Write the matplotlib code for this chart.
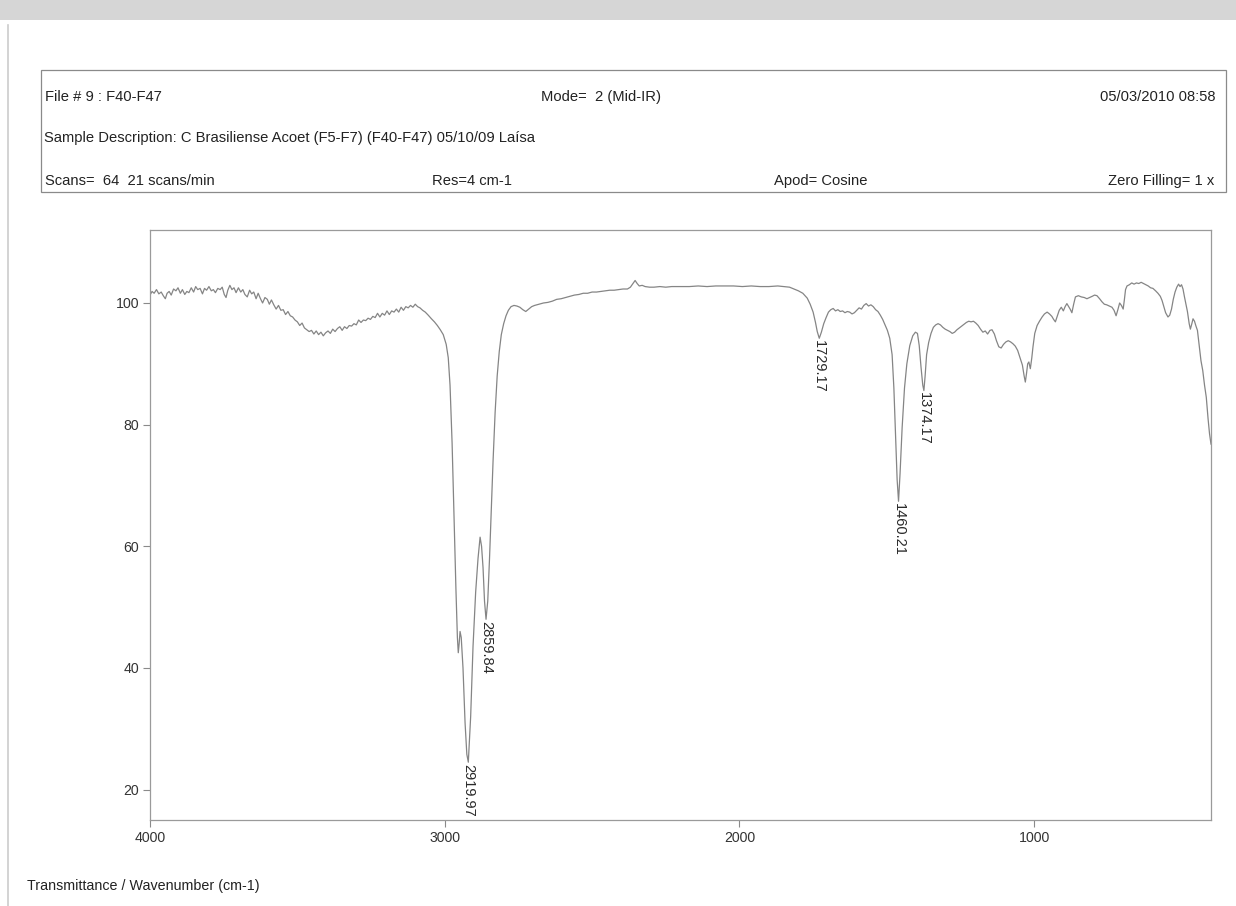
import numpy as np
import matplotlib
matplotlib.use("Agg")
import matplotlib.pyplot as plt
from matplotlib.patches import Rectangle
from matplotlib.lines import Line2D

plt.rcParams['font.family'] = ['Liberation Sans', 'DejaVu Sans']

# ---- Spectrum: wavenumber (cm-1) and transmittance (%) ----
wn_oh = [4000, 3993, 3986, 3978, 3970, 3962, 3955, 3948, 3942, 3935, 3928, 3920,
         3912, 3905, 3897, 3890, 3882, 3875, 3868, 3860, 3852, 3845, 3838, 3830,
         3822, 3815, 3808, 3800, 3792, 3785, 3778, 3770, 3762, 3755, 3748, 3742,
         3736, 3729, 3722, 3715, 3708, 3700, 3692, 3685, 3678, 3670, 3662, 3655,
         3648, 3640, 3633, 3626, 3618, 3610, 3602, 3595, 3588, 3580, 3572, 3564,
         3556, 3548, 3540, 3532, 3524, 3516, 3508, 3500, 3492, 3484, 3476, 3468,
         3460, 3452, 3444, 3436, 3428, 3420, 3412, 3404, 3396, 3388, 3380, 3372,
         3364, 3356, 3348, 3340, 3332, 3324, 3316, 3308, 3300, 3292, 3284, 3276,
         3268, 3260, 3252, 3244, 3236, 3228, 3220, 3212, 3204, 3196, 3188, 3180,
         3172, 3164, 3156, 3148, 3140, 3132, 3124, 3116, 3108, 3100, 3092, 3084,
         3075, 3066, 3056, 3045, 3035, 3025, 3015, 3005]
t_oh = [101.3, 101.9, 101.6, 102.2, 101.5, 101.8, 101.2, 100.7, 101.6, 101.9, 101.3, 102.3,
        102.0, 102.5, 101.6, 102.2, 101.4, 101.9, 101.7, 102.5, 101.8, 102.7, 102.2, 102.4,
        101.5, 102.4, 102.1, 102.7, 102.0, 102.2, 101.7, 102.4, 102.2, 102.6, 101.4, 100.9,
        102.1, 102.9, 102.2, 102.5, 101.7, 102.5, 101.8, 102.2, 101.4, 101.0, 102.1, 101.5,
        101.8, 100.7, 101.6, 100.8, 100.0, 100.9, 100.6, 99.8, 100.5, 99.7, 99.0, 99.6,
        98.8, 98.9, 98.1, 98.6, 97.9, 97.7, 97.2, 96.9, 96.3, 96.7, 95.9, 95.6,
        95.3, 95.5, 94.9, 95.4, 94.8, 95.2, 94.6, 95.1, 95.4, 95.0, 95.7, 95.3,
        95.8, 96.1, 95.5, 96.1, 95.8, 96.3, 96.2, 96.6, 96.4, 97.2, 96.8, 97.2,
        97.1, 97.5, 97.3, 97.8, 97.6, 98.3, 97.7, 98.3, 98.0, 98.7, 98.1, 98.7,
        98.5, 99.0, 98.5, 99.3, 98.8, 99.4, 99.2, 99.6, 99.3, 99.8, 99.4, 99.2,
        98.8, 98.5, 98.0, 97.4, 96.9, 96.3, 95.6, 94.8]

wn_ch = [2995, 2988, 2982, 2975, 2968, 2962, 2957, 2954, 2951, 2948, 2944, 2938,
         2931, 2925, 2919.97, 2912, 2904, 2895, 2887, 2880, 2875, 2870, 2865, 2859.84,
         2854, 2848, 2842, 2836, 2829, 2822, 2815, 2808, 2800, 2792, 2784, 2775,
         2765, 2755, 2745, 2735, 2725, 2715, 2705, 2695, 2680, 2665, 2650, 2635,
         2620, 2605, 2590, 2575, 2560, 2545, 2530, 2515, 2500, 2485, 2470, 2455,
         2440, 2425, 2410, 2395, 2380, 2370, 2360, 2354, 2347, 2340, 2330, 2320,
         2305, 2290, 2270, 2250, 2230, 2200, 2170, 2140, 2110, 2080, 2050, 2020,
         1990, 1960, 1930, 1900, 1870, 1850, 1830, 1815, 1800, 1785, 1770, 1760,
         1750, 1742, 1736]
t_ch = [93.2, 91.0, 86.5, 77.0, 64.0, 53.0, 45.0, 42.5, 44.0, 46.0, 45.0, 40.0,
        31.0, 25.8, 24.5, 32.0, 43.5, 52.5, 58.0, 61.5, 60.0, 56.5, 51.0, 48.0,
        51.0, 58.0, 66.0, 74.0, 82.0, 88.0, 92.0, 94.8, 96.6, 97.9, 98.8, 99.4,
        99.6, 99.5, 99.3, 98.9, 98.6, 99.0, 99.4, 99.6, 99.8, 100.0, 100.1, 100.3,
        100.6, 100.7, 100.9, 101.1, 101.3, 101.4, 101.6, 101.6, 101.8, 101.8, 101.9, 102.0,
        102.1, 102.1, 102.2, 102.3, 102.3, 102.6, 103.3, 103.7, 103.2, 102.8, 102.9, 102.7,
        102.6, 102.6, 102.7, 102.6, 102.7, 102.7, 102.7, 102.8, 102.7, 102.8, 102.8, 102.8,
        102.7, 102.8, 102.7, 102.7, 102.8, 102.7, 102.6, 102.3, 102.0, 101.6, 100.8, 99.8,
        98.5, 96.8, 95.3]

wn_fp = [1729.17, 1722, 1714, 1706, 1698, 1690, 1682, 1674, 1666, 1658, 1650, 1642,
         1634, 1626, 1618, 1610, 1602, 1594, 1586, 1578, 1570, 1562, 1554, 1546,
         1538, 1530, 1522, 1514, 1506, 1498, 1490, 1482, 1476, 1470, 1465, 1460.21,
         1455, 1448, 1440, 1432, 1422, 1412, 1403, 1396, 1390, 1384, 1378, 1374.17,
         1370, 1365, 1358, 1350, 1342, 1334, 1326, 1318, 1310, 1302, 1294, 1286,
         1278, 1270, 1262, 1254, 1246, 1238, 1230, 1222, 1214, 1206, 1198, 1190,
         1182, 1174, 1166, 1158, 1150, 1143, 1135, 1128, 1120, 1112, 1104, 1096,
         1088, 1080, 1072, 1064, 1056, 1048, 1040, 1034, 1030, 1026, 1022, 1018,
         1013, 1008, 1004, 998, 990, 982, 973, 965, 956, 948, 940, 934,
         928, 922, 915, 908, 901, 895, 889, 884, 878, 872, 866, 860,
         850, 840, 830, 821, 812, 803, 795, 787, 778, 770, 762, 754,
         745, 736, 729, 722, 716, 710, 704, 698, 694, 690, 685, 677,
         669, 661, 653, 645, 637, 629, 621, 613, 605, 597, 588, 580,
         572, 566, 560, 554, 546, 540, 534, 528, 522, 516, 510, 505,
         500, 495, 490, 485, 480, 474, 470, 465, 461, 456, 451, 446,
         440, 434, 428, 422, 416, 410, 405, 400]
t_fp = [94.2, 95.2, 96.6, 97.6, 98.5, 98.9, 99.1, 98.7, 98.9, 98.6, 98.7, 98.4,
        98.6, 98.5, 98.2, 98.4, 98.8, 99.2, 99.0, 99.6, 99.9, 99.5, 99.7, 99.4,
        98.9, 98.6, 98.0, 97.3, 96.4, 95.5, 94.2, 91.5, 86.0, 78.0, 71.0, 67.4,
        72.0, 79.5, 86.0, 90.0, 93.0, 94.6, 95.2, 95.0, 93.0, 89.5, 86.5, 85.6,
        88.0, 91.5, 93.5, 95.0, 96.0, 96.4, 96.6, 96.4, 96.0, 95.7, 95.5, 95.3,
        95.0, 95.2, 95.6, 95.9, 96.2, 96.5, 96.8, 97.0, 96.9, 97.0, 96.7, 96.3,
        95.7, 95.2, 95.4, 94.9, 95.5, 95.6, 94.9, 93.8, 92.8, 92.6, 93.2, 93.6,
        93.8, 93.6, 93.3, 92.9, 92.2, 91.0, 89.8, 88.0, 87.0, 88.4, 90.0, 90.3,
        89.2, 91.0, 92.8, 95.0, 96.3, 97.0, 97.7, 98.2, 98.5, 98.2, 97.8, 97.3,
        96.9, 97.8, 98.8, 99.3, 98.7, 99.4, 99.9, 99.5, 99.0, 98.4, 99.8, 101.0,
        101.2, 101.0, 100.9, 100.7, 100.9, 101.1, 101.3, 101.2, 100.7, 100.2, 99.8, 99.7,
        99.5, 99.3, 98.8, 97.9, 98.9, 100.0, 99.6, 99.0, 100.5, 102.2, 102.8, 103.0,
        103.3, 103.1, 103.3, 103.2, 103.4, 103.2, 103.0, 102.8, 102.5, 102.4, 102.0, 101.6,
        101.1, 100.4, 99.4, 98.4, 97.7, 98.0, 99.0, 100.6, 101.8, 102.6, 103.1, 102.7,
        103.0, 102.3, 101.0, 99.8, 98.6, 96.6, 95.7, 96.6, 97.4, 97.0, 96.2, 95.5,
        93.0, 90.5, 88.9, 86.5, 84.5, 81.0, 78.5, 76.8]

# Labelled band positions
peak_wn = [2919.97, 2859.84, 1729.17, 1460.21, 1374.17]

x_ticks = [4000, 3000, 2000, 1000]
y_ticks = [20, 40, 60, 80, 100]

wavenumber = np.array(wn_oh + wn_ch + wn_fp)
transmittance = np.array(t_oh + t_ch + t_fp)

W, H = 1236, 906
fig = plt.figure(figsize=(W / 100, H / 100), dpi=100)
fig.patch.set_facecolor('white')

# scanned page: grey strip at the top and the page edge on the left
fig.patches.append(Rectangle((0, 1 - 20 / H), 1, 20 / H, transform=fig.transFigure,
                             facecolor='#d6d6d6', edgecolor='none', zorder=0))
fig.lines.append(Line2D([8 / W, 8 / W], [0, 1 - 25 / H], transform=fig.transFigure,
                        color='#cccccc', lw=1.2))

# header box
fig.patches.append(Rectangle((41 / W, 1 - 192 / H), (1226 - 41) / W, (192 - 70) / H,
                             transform=fig.transFigure, facecolor='none',
                             edgecolor='#8a8a8a', lw=0.9))

hdr = dict(fontsize=10.6, color='#222222', va='center')
fig.text(45 / W, 1 - 97 / H, 'File # 9 : F40-F47', **hdr)
fig.text(541 / W, 1 - 97 / H, 'Mode=  2 (Mid-IR)', **hdr)
fig.text(1216 / W, 1 - 97 / H, '05/03/2010 08:58', ha='right', **hdr)
fig.text(44 / W, 1 - 138 / H,
         'Sample Description: C Brasiliense Acoet (F5-F7) (F40-F47) 05/10/09 Laísa', **hdr)
fig.text(45 / W, 1 - 181 / H, 'Scans=  64  21 scans/min', **hdr)
fig.text(432 / W, 1 - 181 / H, 'Res=4 cm-1', **hdr)
fig.text(774 / W, 1 - 181 / H, 'Apod= Cosine', **hdr)
fig.text(1214 / W, 1 - 181 / H, 'Zero Filling= 1 x', ha='right', **hdr)

fig.text(27 / W, 1 - 886 / H, 'Transmittance / Wavenumber (cm-1)', fontsize=10.3,
         color='#222222', va='center')

# spectrum axes
ax = fig.add_axes([150 / W, 1 - 820 / H, (1211 - 150) / W, (820 - 230) / H])
ax.plot(wavenumber, transmittance, color='#858585', lw=0.9)
ax.set_xlim(4000, 400)
ax.set_ylim(15.0, 112.0)
ax.set_xticks(x_ticks)
ax.set_yticks(y_ticks)
ax.tick_params(direction='out', length=5, width=0.8, color='#8a8a8a',
               labelsize=10.2, labelcolor='#333333', pad=3)
for s in ax.spines.values():
    s.set_color('#9a9a9a')
    s.set_linewidth(0.9)

for p in peak_wn:
    yv = np.interp(p, wavenumber[::-1], transmittance[::-1])
    ax.annotate(f'{p:.2f}', xy=(p, yv), xytext=(0, -1), textcoords='offset points',
                rotation=270, ha='center', va='top', fontsize=10.5, color='#2a2a2a')

fig.savefig('out.png', dpi=100, facecolor='white')
